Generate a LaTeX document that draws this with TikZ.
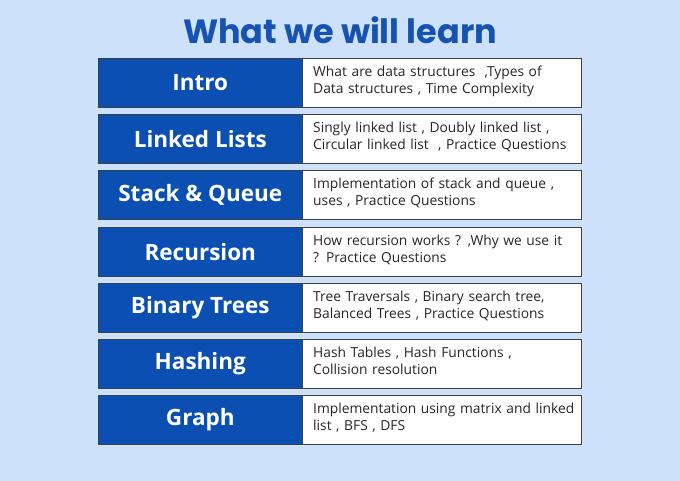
\documentclass[tikz,border=0pt]{standalone}
\usepackage{fontspec}
\setmainfont{Open Sans}
\newfontfamily\titlefont{Poppins}
\definecolor{bg}{HTML}{CDE1FB}
\definecolor{dblue}{HTML}{0B4FB3}
\definecolor{tblue}{HTML}{1652B0}
\begin{document}
\begin{tikzpicture}[x=1pt,y=-1pt,
  lbox/.style={draw=black!75,line width=0.6pt,fill=dblue,minimum width=204pt,minimum height=49pt,anchor=north west,inner sep=0pt,text=white,font=\fontsize{22.5}{25}\selectfont\bfseries},
  rbox/.style={draw=black!75,line width=0.6pt,fill=white,minimum width=279pt,minimum height=49pt,anchor=north west,inner sep=0pt},
  rtext/.style={anchor=north west,align=left,font=\fontsize{13.8}{17}\selectfont,text width=268pt,inner sep=0pt,text=black!85}]
\fill[bg] (0,0) rectangle (680,481);
\node[font=\titlefont\fontsize{33.5}{36}\selectfont\bfseries,text=tblue] (title) at (340,30) {What we will learn};
\foreach \i/\y/\l/\r in {
 1/58/Intro/{What are data structures\ \ ,Types of\\Data structures , Time Complexity},
 2/114/Linked Lists/{Singly linked list , Doubly linked list ,\\Circular linked list\ \ , Practice Questions},
 3/170/Stack \& Queue/{Implementation of stack and queue ,\\uses , Practice Questions},
 4/227/Recursion/{How recursion works ? ,Why we use it\\? Practice Questions},
 5/283/Binary Trees/{Tree Traversals , Binary search tree,\\Balanced Trees , Practice Questions},
 6/339/Hashing/{Hash Tables , Hash Functions ,\\Collision resolution},
 7/395/Graph/{Implementation using matrix and linked\\list , BFS , DFS}}{
  \node[lbox] (l\i) at (98,\y) {\l};
  \node[rbox] (r\i) at (302,\y) {};
  \node[rtext] (t\i) at (313,\y+8) {\r};
}
\end{tikzpicture}
\end{document}
